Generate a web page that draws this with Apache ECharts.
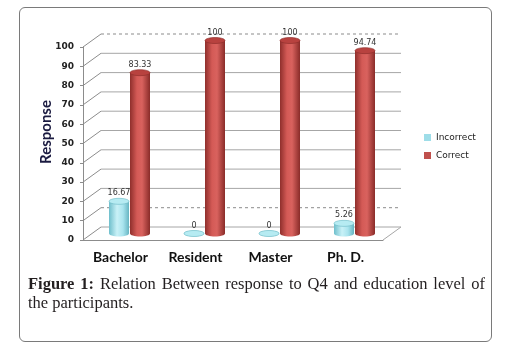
<!DOCTYPE html>
<html>
<head>
<meta charset="utf-8">
<script src="https://cdn.jsdelivr.net/npm/echarts@6/dist/echarts.min.js"></script>
<style>
  html, body { margin: 0; padding: 0; background: #fff; }
  #wrap { position: relative; width: 513px; height: 350px; }
  #frame {
    position: absolute; left: 19px; top: 7px; width: 471px; height: 333px;
    border: 1px solid #7a7a7a; border-radius: 6px;
  }
  #chart { position: absolute; left: 0; top: 0; width: 513px; height: 350px; }
  .cap {
    position: absolute; left: 28px; width: 457px;
    font-family: "Liberation Serif", serif; font-size: 16.5px; line-height: 19px;
    color: #231f20; white-space: nowrap;
  }
  #cap1 { top: 274px; text-align: justify; text-align-last: justify; }
  #cap2 { top: 293px; }
</style>
</head>
<body>
<div id="wrap">
  <div id="frame"></div>
  <div id="chart"></div>
  <div class="cap" id="cap1"><b>Figure 1:</b> Relation Between response to Q4 and education level of</div>
  <div class="cap" id="cap2">the participants.</div>
</div>
<script>
// chart data
const categories = ['Bachelor', 'Resident', 'Master', 'Ph. D.'];
const incorrect = [16.67, 0, 0, 5.26];
const correct = [83.33, 100, 100, 94.74];
const yTicks = [0, 10, 20, 30, 40, 50, 60, 70, 80, 90, 100];
const dashedTicks = [10, 100];

// fake 3d depth of the back wall
const DX = 18, DY = -13;

let myChart = echarts.init(document.getElementById('chart'));

function grad(stops) {
    return new echarts.graphic.LinearGradient(0, 0, 1, 0, stops);
}

const redBody = grad([
    {offset: 0, color: '#8f2f2c'}, {offset: 0.35, color: '#d45a56'},
    {offset: 0.6, color: '#d9625e'}, {offset: 1, color: '#8a2c29'}
]);
const cyanBody = grad([
    {offset: 0, color: '#6fbfcc'}, {offset: 0.4, color: '#c9f1f7'},
    {offset: 0.7, color: '#a9e4ee'}, {offset: 1, color: '#66b5c2'}
]);

// cylinder drawn at mid depth
function cylinder(shift, body, topFill, rim) {
    return function (params, api) {
        let ci = api.value(0), v = api.value(1);
        let base = api.coord([ci, 0]);
        let top = api.coord([ci, v]);
        let cx = base[0] + DX / 2 + shift;
        let y0 = base[1] + DY / 2, y1 = top[1] + DY / 2;
        let rx = 10, ry = 3;
        return {
            type: 'group',
            children: [
                {type: 'ellipse', shape: {cx: cx, cy: y0, rx: rx, ry: ry}, style: {fill: body}},
                {type: 'rect', shape: {x: cx - rx, y: y1, width: rx * 2, height: y0 - y1}, style: {fill: body}},
                {type: 'ellipse', shape: {cx: cx, cy: y1, rx: rx, ry: ry}, style: {fill: topFill, stroke: rim, lineWidth: 0.6}},
                {type: 'text', x: cx, y: y1 - ry - 1, style: {
                    text: String(v), fill: '#333', font: '8px "DejaVu Sans"',
                    align: 'center', verticalAlign: 'bottom'
                }}
            ]
        };
    };
}

// back wall gridlines and floor
function wallLine(params, api) {
    let v = api.value(1);
    let cs = params.coordSys;
    let y = api.coord([0, v])[1];
    let x0 = cs.x, x1 = cs.x + cs.width;
    let dashed = dashedTicks.indexOf(v) >= 0;
    let children = [
        {type: 'line', shape: {x1: x0, y1: y, x2: x0 + DX, y2: y + DY}, style: {stroke: '#8c8c8c', lineWidth: 1}},
        {type: 'line', shape: {x1: x0 + DX, y1: y + DY, x2: x1 + DX, y2: y + DY},
            style: {stroke: dashed ? '#8c8c8c' : '#a6a6a6', lineWidth: 1, lineDash: dashed ? [3, 3] : null}}
    ];
    if (v === 0) {
        children.push({type: 'line', shape: {x1: x1, y1: y, x2: x1 + DX, y2: y + DY}, style: {stroke: '#a6a6a6', lineWidth: 1}});
    }
    return {type: 'group', children: children};
}

let option = {
    animation: false,
    textStyle: {fontFamily: 'DejaVu Sans'},
    grid: {left: 83, top: 47, width: 300, height: 193},
    legend: {
        orient: 'vertical',
        left: 419,
        top: 128,
        itemWidth: 7,
        itemHeight: 7,
        itemGap: 9,
        icon: 'rect',
        textStyle: {fontSize: 9, color: '#222', fontFamily: 'DejaVu Sans'},
        data: ['Incorrect', 'Correct']
    },
    xAxis: {
        type: 'category',
        data: categories,
        axisLine: {lineStyle: {color: '#8c8c8c'}},
        axisTick: {length: 3, lineStyle: {color: '#8c8c8c'}},
        axisLabel: {
            margin: 10,
            color: '#111',
            fontFamily: 'Lato',
            fontWeight: 'bold',
            fontSize: 14
        }
    },
    yAxis: {
        type: 'value',
        min: 0,
        max: 100,
        interval: 10,
        axisLine: {show: true, lineStyle: {color: '#8c8c8c'}},
        axisTick: {show: true, length: 3, lineStyle: {color: '#8c8c8c'}},
        splitLine: {show: false},
        axisLabel: {margin: 9, color: '#222', fontSize: 9, fontWeight: 'bold'}
    },
    graphic: [{
        type: 'text',
        x: 46,
        y: 132,
        rotation: Math.PI / 2,
        style: {
            text: 'Response', fill: '#1a1a40', font: 'bold 15px Lato',
            align: 'center', verticalAlign: 'middle'
        }
    }],
    series: [
        {
            name: 'wall',
            type: 'custom',
            silent: true,
            z: 1,
            renderItem: wallLine,
            data: yTicks.map(v => [0, v])
        },
        {
            name: 'Incorrect',
            type: 'custom',
            z: 3,
            itemStyle: {color: '#9edde8'},
            renderItem: cylinder(-10.5, cyanBody, '#b6ebf2', '#6bb8c4'),
            encode: {x: 0, y: 1},
            data: incorrect.map((v, i) => [i, v])
        },
        {
            name: 'Correct',
            type: 'custom',
            z: 3,
            itemStyle: {color: '#c0504d'},
            renderItem: cylinder(10.5, redBody, '#b8423f', '#8a2c29'),
            encode: {x: 0, y: 1},
            data: correct.map((v, i) => [i, v])
        }
    ]
};

myChart.setOption(option);
</script>
</body>
</html>
